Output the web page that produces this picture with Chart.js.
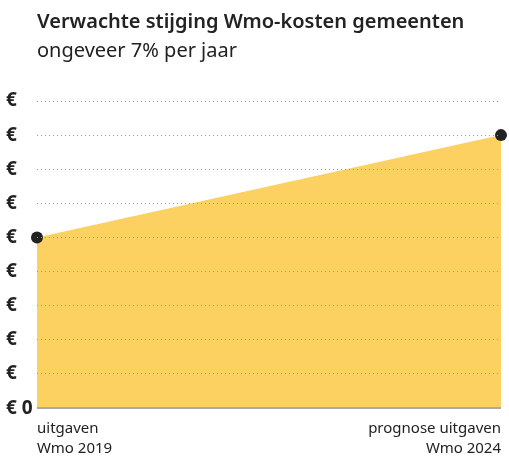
<!DOCTYPE html>
<html>
<head>
<meta charset="utf-8">
<script src="https://cdn.jsdelivr.net/npm/chart.js@4"></script>
<style>
  html, body { margin: 0; padding: 0; background: #fff; overflow: hidden; }
  #wrap { position: relative; width: 509px; height: 462px; overflow: hidden; }
  #wrap canvas { position: absolute; left: 0; top: 0; }
  .title { position: absolute; left: 37px; top: 7px; font: 600 20px "Noto Sans", sans-serif; color: #222; white-space: nowrap; }
  .subtitle { position: absolute; left: 37px; top: 36px; font: 20px "Noto Sans", sans-serif; color: #222; white-space: nowrap; }
</style>
</head>
<body>
<div id="wrap">
  <canvas id="chart" width="509" height="462"></canvas>
  <div class="title">Verwachte stijging Wmo-kosten gemeenten</div>
  <div class="subtitle">ongeveer 7% per jaar</div>
</div>
<script>
const labels = [['uitgaven', 'Wmo 2019'], ['prognose uitgaven', 'Wmo 2024']];
const kosten = [5, 8];
const yMin = 0;
const yMax = 9;

const ctx = document.getElementById('chart');

new Chart(ctx, {
    type: 'line',
    data: {
        labels: labels,
        datasets: [{
            data: kosten,
            fill: 'origin',
            backgroundColor: 'rgb(253, 208, 98)',
            borderWidth: 0,
            borderColor: 'rgb(253, 208, 98)',
            pointRadius: 6,
            pointBackgroundColor: '#222',
            pointBorderWidth: 0,
            clip: false
        }]
    },
    options: {
        responsive: false,
        animation: false,
        layout: {
            padding: { top: 101, left: 6, right: 8, bottom: 0 }
        },
        plugins: {
            legend: { display: false },
            tooltip: { enabled: false }
        },
        scales: {
            x: {
                offset: false,
                grid: { display: false },
                border: { display: false },
                ticks: {
                    align: 'inner',
                    padding: 3,
                    color: '#222',
                    font: { family: 'Noto Sans', size: 15, lineHeight: 1.33 },
                    maxRotation: 0
                }
            },
            y: {
                min: yMin,
                max: yMax,
                afterFit: function (s) { s.width = 31; },
                grid: {
                    drawTicks: false,
                    z: 1,
                    color: function (c) { return c.tick && c.tick.value === 0 ? '#aaa' : '#999'; },
                    lineWidth: function (c) { return c.tick && c.tick.value === 0 ? 2 : 1; }
                },
                border: {
                    display: false,
                    dash: function (c) { return c.tick && c.tick.value === 0 ? [] : [1, 3]; }
                },
                ticks: {
                    stepSize: 1,
                    crossAlign: 'far',
                    padding: 4,
                    color: '#222',
                    font: { family: 'Noto Sans', size: 19, weight: 'bold' },
                    callback: function (v) { return v === 0 ? '€ 0' : '€'; }
                }
            }
        }
    }
});
</script>
</body>
</html>
